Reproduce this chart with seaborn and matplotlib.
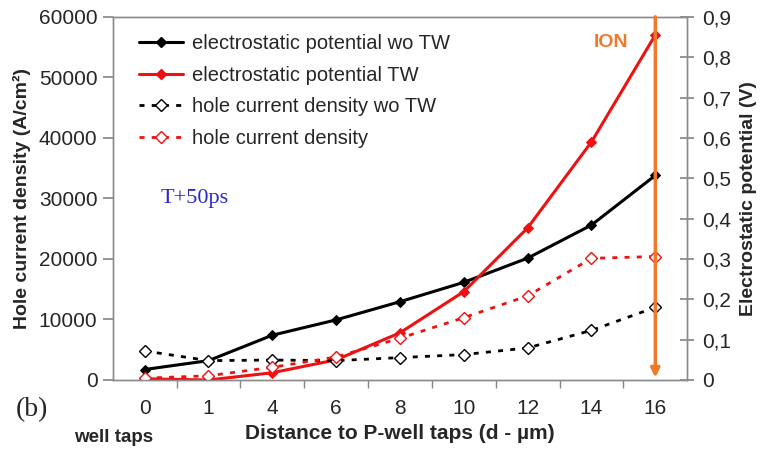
import matplotlib
matplotlib.use("Agg")
import matplotlib.pyplot as plt
import seaborn as sns
import pandas as pd
from matplotlib.lines import Line2D
from matplotlib.ticker import FuncFormatter

sns.set_theme(style="white")
plt.rcParams['font.family'] = ['Liberation Sans', 'DejaVu Sans']

categories = ["0", "1", "4", "6", "8", "10", "12", "14", "16"]
pot_wo_tw = [0.026, 0.048, 0.111, 0.149, 0.194, 0.242, 0.302, 0.384, 0.507]
pot_tw = [0.003, 0.000, 0.018, 0.050, 0.117, 0.219, 0.377, 0.590, 0.855]
hole_wo_tw = [4800, 3200, 3300, 3200, 3700, 4200, 5300, 8200, 12000]
hole_tw = [300, 700, 2100, 3800, 6900, 10300, 13900, 20100, 20400]
left_ticks = [0, 10000, 20000, 30000, 40000, 50000, 60000]
right_ticks = [0, 0.1, 0.2, 0.3, 0.4, 0.5, 0.6, 0.7, 0.8, 0.9]
legend_labels = ["electrostatic potential wo TW", "electrostatic potential TW",
                 "hole current density wo TW", "hole current density"]

df = pd.DataFrame({"d": categories, "pot_wo": pot_wo_tw, "pot_tw": pot_tw,
                   "hole_wo": hole_wo_tw, "hole_tw": hole_tw})

fig = plt.figure(figsize=(7.67, 4.54), dpi=100)
ax = fig.add_axes([0.147, 0.163, 0.749, 0.800])
ax2 = ax.twinx()

red = "#ee1111"
dots = (0, (1.8, 2.6))
# hole current density (left axis), dotted with open diamonds
sns.lineplot(data=df, x="d", y="hole_wo", ax=ax, color="black", linestyle=dots,
             linewidth=2.0, marker="D", markersize=6.5, markerfacecolor="white",
             markeredgecolor="black", markeredgewidth=1.0, sort=False)
sns.lineplot(data=df, x="d", y="hole_tw", ax=ax, color=red, linestyle=dots,
             linewidth=2.0, marker="D", markersize=6.5, markerfacecolor="white",
             markeredgecolor=red, markeredgewidth=1.0, sort=False)
# electrostatic potential (right axis), solid with filled diamonds
sns.lineplot(data=df, x="d", y="pot_wo", ax=ax2, color="black", linewidth=2.2,
             marker="D", markersize=5, markeredgecolor="black", sort=False)
sns.lineplot(data=df, x="d", y="pot_tw", ax=ax2, color=red, linewidth=2.2,
             marker="D", markersize=5, markeredgecolor=red, sort=False)

ax.set_xlim(-0.5, 8.5)
ax.set_ylim(0, 60000)
ax2.set_ylim(0, 0.9)
ax.set_yticks(left_ticks)
ax2.set_yticks(right_ticks)
ax2.yaxis.set_major_formatter(FuncFormatter(lambda v, p: "0" if v == 0 else f"{v:.1f}".replace(".", ",")))

ax.set_xlabel("Distance to P-well taps (d - µm)", fontsize=15, fontweight="bold", labelpad=4)
ax.set_ylabel("Hole current density (A/cm²)", fontsize=14, fontweight="bold", labelpad=6)
ax2.set_ylabel("Electrostatic potential (V)", fontsize=14, fontweight="bold", labelpad=6)

# minor ticks at category boundaries
ax.set_xticks([i + 0.5 for i in range(8)], minor=True)
ax.tick_params(axis="x", which="major", length=0, labelsize=15, pad=14)
ax.tick_params(axis="x", which="minor", length=6, color="#888888", direction="out")
ax.tick_params(axis="y", length=7, color="#888888", direction="out", labelsize=15, pad=4)
ax2.tick_params(axis="y", length=10, color="#888888", direction="inout", labelsize=15, pad=6)
ax.tick_params(axis="x", which="both", bottom=True)

for a in (ax, ax2):
    for s in a.spines.values():
        s.set_color("#8a8a8a")
        s.set_linewidth(1.0)

# orange arrow at d = 16
ax.annotate("", xy=(8, 400), xytext=(8, 60000), xycoords="data",
            arrowprops=dict(arrowstyle="-|>", color="#f07a2a", lw=2.5,
                            mutation_scale=13, shrinkA=0, shrinkB=0), zorder=5)
ax.text(7.3, 55800, "ION", color="#f07a2a", fontsize=14, fontweight="bold",
        ha="center", va="center")

ax.text(0.25, 30000, "T+50ps", color="#2a2ac8", fontsize=16, family="Liberation Serif",
        ha="left", va="center")
fig.text(0.042, 0.097, "(b)", fontsize=20, family="Liberation Serif", ha="center", va="center")
fig.text(0.148, 0.037, "well taps", fontsize=13.5, fontweight="bold", ha="center", va="center")

handles = [
    Line2D([], [], color="black", lw=2.2, marker="D", markersize=5),
    Line2D([], [], color=red, lw=2.2, marker="D", markersize=5),
    Line2D([], [], color="black", lw=2.0, linestyle=dots, marker="D", markersize=6.5,
           markerfacecolor="white"),
    Line2D([], [], color=red, lw=2.0, linestyle=dots, marker="D", markersize=6.5,
           markerfacecolor="white"),
]
ax2.legend(handles, legend_labels, loc="upper left", bbox_to_anchor=(0.025, 0.985),
           frameon=False, fontsize=14.5, handlelength=2.2, handletextpad=0.4,
           labelspacing=0.62, borderaxespad=0.2)

ax.set_zorder(ax2.get_zorder() + 1)
ax.patch.set_visible(False)

fig.savefig("out.png", dpi=100)
